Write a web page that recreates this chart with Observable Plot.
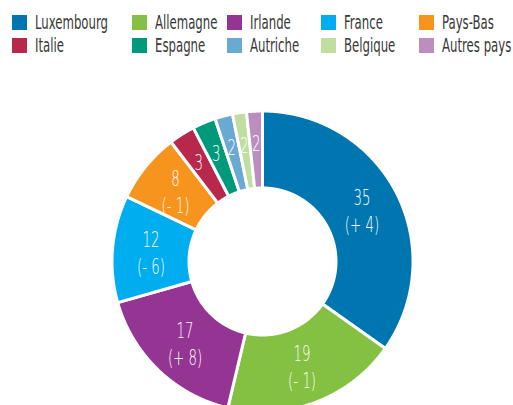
<!DOCTYPE html>
<html>
<head>
<meta charset="utf-8">
<script src="https://cdn.jsdelivr.net/npm/d3@7"></script>
<script src="https://cdn.jsdelivr.net/npm/@observablehq/plot@0.6"></script>
<style>
  html, body { margin: 0; padding: 0; background: #fff; overflow: hidden; }
  #wrap { position: relative; width: 513px; height: 405px; }
  #legend { position: relative; width: 513px; height: 60px; font-family: "DejaVu Sans Condensed", "DejaVu Sans", sans-serif; font-stretch: condensed; font-weight: 400; color: #383838; }
  .item { position: absolute; height: 15px; }
  .sw { position: absolute; left: 0; top: 0; width: 15px; height: 15px; }
  .lb { position: absolute; left: 23px; top: 0; line-height: 15px; font-size: 19px; white-space: nowrap; transform-origin: 0 0; }
  svg text { font-family: "DejaVu Sans", sans-serif; font-stretch: condensed; font-weight: 200; }
</style>
</head>
<body>
<div id="wrap">
  <div id="legend"></div>
  <div id="chart"></div>
</div>
<script>
// ---- data ----
const countries = ["Luxembourg", "Allemagne", "Irlande", "France", "Pays-Bas", "Italie", "Espagne", "Autriche", "Belgique", "Autres pays"];
const shares = [34.8, 18.9, 16.9, 11.5, 7.5, 2.8, 2.5, 1.9, 1.5, 1.7];
const shownValues = ["35", "19", "17", "12", "8", "3", "3", "2", "2", "2"];
const changes = ["+ 4", "- 1", "+ 8", "- 6", "- 1", null, null, null, null, null];
const colors = ["#0076b0", "#84c142", "#953593", "#00aeef", "#f7941e", "#b8284d", "#00997b", "#6aaad2", "#c0de9f", "#bc8dbf"];

// legend order (two rows of five)
const legendRows = [
  ["Luxembourg", "Allemagne", "Irlande", "France", "Pays-Bas"],
  ["Italie", "Espagne", "Autriche", "Belgique", "Autres pays"]
];
const legendColX = [12, 132, 227, 321, 419];
const legendRowY = [15, 38];

// ---- legend ----
const legend = document.getElementById("legend");
const lbs = [];
legendRows.forEach((row, ri) => row.forEach((name, ci) => {
  const it = document.createElement("div");
  it.className = "item";
  it.style.left = legendColX[ci] + "px";
  it.style.top = legendRowY[ri] + "px";
  const sw = document.createElement("div");
  sw.className = "sw";
  sw.style.background = colors[countries.indexOf(name)];
  const lb = document.createElement("span");
  lb.className = "lb";
  lb.textContent = name;
  it.appendChild(sw); it.appendChild(lb);
  legend.appendChild(it);
  lbs.push(lb);
}));
// squeeze legend text to the condensed look of the original ("Luxembourg" ≈ 73px wide)
const wLux = lbs[0].getBoundingClientRect().width;
const sxLegend = Math.min(1, 73 / wLux);
lbs.forEach(lb => lb.style.transform = `scaleX(${sxLegend})`);

// ---- donut geometry (data space, pixel-like units) ----
const R = 150.5, r0 = 73.5;
const pie = d3.pie().sort(null).startAngle(0).endAngle(2 * Math.PI)(shares);
const pts = [];
pie.forEach((s, i) => {
  const n = Math.max(2, Math.ceil((s.endAngle - s.startAngle) / 0.005));
  for (let k = 0; k <= n; k++) {
    const a = s.startAngle + (s.endAngle - s.startAngle) * k / n;
    pts.push({country: countries[i], x: R * Math.sin(a), y: R * Math.cos(a)});
  }
  for (let k = n; k >= 0; k--) {
    const a = s.startAngle + (s.endAngle - s.startAngle) * k / n;
    pts.push({country: countries[i], x: r0 * Math.sin(a), y: r0 * Math.cos(a)});
  }
});
const labels = pie.map((s, i) => {
  const a = (s.startAngle + s.endAngle) / 2;
  const rr = changes[i] ? 112 : 119;
  return {
    country: countries[i],
    x: rr * Math.sin(a),
    y: rr * Math.cos(a),
    text: changes[i] ? `${shownValues[i]}\n(${changes[i]})` : shownValues[i]
  };
});

const chart = Plot.plot({
  width: 513,
  height: 355,
  marginLeft: 112,
  marginRight: 101,
  marginTop: 51,
  marginBottom: 4,
  x: {domain: [-150, 150], axis: null},
  y: {domain: [-150, 150], axis: null},
  color: {domain: countries, range: colors},
  marks: [
    Plot.line(pts, {x: "x", y: "y", z: "country", fill: "country", stroke: "white", strokeWidth: 3, curve: "linear-closed"}),
    Plot.text(labels, {x: "x", y: "y", text: "text", fill: "white", fontSize: 22, lineHeight: 1.23})
  ]
});
document.getElementById("chart").appendChild(chart);

// squeeze slice labels horizontally (original "35" ≈ 17px wide)
const texts = Array.from(chart.querySelectorAll("text"));
const t35 = texts.find(t => t.textContent.startsWith("35"));
if (t35) {
  const first = t35.querySelector("tspan") || t35;
  const tmp = first.getComputedTextLength ? first.getComputedTextLength() : t35.getBBox().width;
  const sx = Math.min(1, 17 / tmp);
  texts.forEach(t => {
    const b = t.getBBox();
    const cx = b.x + b.width / 2;
    const old = t.getAttribute("transform") || "";
    t.setAttribute("transform", `${old} translate(${cx},0) scale(${sx},1) translate(${-cx},0)`);
  });
}
</script>
</body>
</html>
